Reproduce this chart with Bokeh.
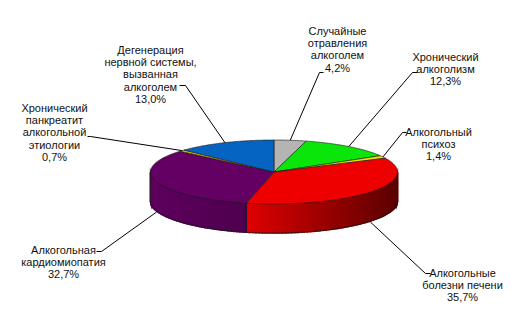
import numpy as np
from bokeh.plotting import figure
from bokeh.models import Range1d
from bokeh.embed import file_html
from bokeh.resources import INLINE
from bokeh.core.properties import value

# ---- data ----
categories = [
    ["Случайные", "отравления", "алкоголем"],
    ["Хронический", "алкоголизм"],
    ["Алкогольный", "психоз"],
    ["Алкогольные", "болезни печени"],
    ["Алкогольная", "кардиомиопатия"],
    ["Хронический", "панкреатит", "алкогольной", "этиологии"],
    ["Дегенерация", "нервной системы,", "вызванная", "алкоголем"],
]
shares = [4.2, 12.3, 1.4, 35.7, 32.7, 0.7, 13.0]

# ---- styles ----
top_colors = ["#B4B4B4", "#0AE60A", "#EEDD00", "#EE0000", "#640064", "#EEDD00", "#0563C1"]
side_rgb = [(180, 180, 180), (10, 230, 10), (238, 221, 0), (238, 0, 0),
            (100, 0, 100), (238, 221, 0), (5, 99, 193)]
side_shade = [(0.9, 0.6), (0.9, 0.6), (0.9, 0.6), (0.94, 0.38), (0.95, 0.78), (0.9, 0.6), (0.9, 0.6)]

# ---- layout ----
W, H = 522, 324
CX, CY, RX, RY, DEPTH = 273.5, 171.5, 123.5, 32.0, 29.0
label_first_line = [(337, 30), (445, 56), (438, 131), (462, 272), (63, 249), (54, 107), (150, 49)]
LINE_STEP = 12.4
leader_elbow = [(319, 72, 323), (412, 72, 417), (402, 132, 406), (425, 273, 430),
                (101, 251, 96), (90, 136, 87), (185, 85, 179)]

p = figure(width=W, height=H, output_backend="svg", toolbar_location=None,
           x_range=Range1d(0, W), y_range=Range1d(H, 0), min_border=0,
           background_fill_color="white", border_fill_color="white")
p.axis.visible = False
p.grid.visible = False
p.outline_line_color = None


def pt(theta_deg, dy=0.0):
    t = np.radians(theta_deg)
    return CX + RX * np.sin(t), CY - RY * np.cos(t) + dy


total = sum(shares)
bounds = np.concatenate([[0], np.cumsum(shares)]) / total * 360.0

# ---- sides (visible lower half: 90..270 deg clockwise from top) ----
sx, sy, sc = [], [], []
for i in range(len(shares)):
    a0, a1 = max(bounds[i], 90.0), min(bounds[i + 1], 270.0)
    if a1 <= a0:
        continue
    n = max(2, int((a1 - a0) / 1.5))
    angs = np.linspace(a0, a1, n + 1)
    xs0, xs1 = pt(a0)[0], pt(a1)[0]
    lo, hi = min(xs0, xs1), max(xs0, xs1)
    r, g, b = side_rgb[i]
    f0, f1 = side_shade[i]
    for k in range(n):
        xa, ya = pt(angs[k])
        xb, yb = pt(angs[k + 1])
        xm = (xa + xb) / 2
        tt = (xm - lo) / (hi - lo) if hi > lo else 0
        f = f0 + (f1 - f0) * tt
        col = "#%02x%02x%02x" % (int(r * f), int(g * f), int(b * f))
        sx.append([xa, xb, xb, xa])
        sy.append([ya, yb, yb + DEPTH, ya + DEPTH])
        sc.append(col)
p.patches(sx, sy, fill_color=sc, line_color=sc, line_width=1.6, line_join="miter")

# side outlines
angs = np.linspace(90, 270, 181)
bx = [pt(a, DEPTH)[0] for a in angs]
by = [pt(a, DEPTH)[1] for a in angs]
p.line(bx, by, line_color="#1a1a1a", line_width=0.8)
for a in [90.0, 270.0] + [b for b in bounds if 90 < b < 270]:
    x0, y0 = pt(a)
    p.line([x0, x0], [y0, y0 + DEPTH], line_color="#1a1a1a", line_width=0.7)

# ---- top face ----
tx, ty = [], []
for i in range(len(shares)):
    angs = np.linspace(bounds[i], bounds[i + 1], max(3, int(bounds[i + 1] - bounds[i]) + 2))
    xs = [CX] + [pt(a)[0] for a in angs]
    ys = [CY] + [pt(a)[1] for a in angs]
    tx.append(xs)
    ty.append(ys)
p.patches(tx, ty, fill_color=top_colors, line_color="#1a1a1a", line_width=0.6)

# ---- leaders ----
for i in range(len(shares)):
    mid = (bounds[i] + bounds[i + 1]) / 2
    dy = DEPTH + 1 if np.cos(np.radians(mid)) < 0 else 0
    px, py = pt(mid, dy)
    ex, ey, lx = leader_elbow[i]
    p.line([lx, ex, px], [ey, ey, py], line_color="black", line_width=1)

# ---- labels ----
tx_, ty_, tt_ = [], [], []
for i, lines in enumerate(categories):
    pct = ("%.1f" % shares[i]).replace(".", ",") + "%"
    cx, y0 = label_first_line[i]
    for k, s in enumerate(lines + [pct]):
        tx_.append(cx)
        ty_.append(y0 + k * LINE_STEP)
        tt_.append(s)
p.text(x=tx_, y=ty_, text=tt_, text_align="center", text_baseline="middle",
       text_font=value("Liberation Sans"), text_font_size="11px", text_color="#111111")

open("out.html", "w").write(file_html(p, INLINE))
